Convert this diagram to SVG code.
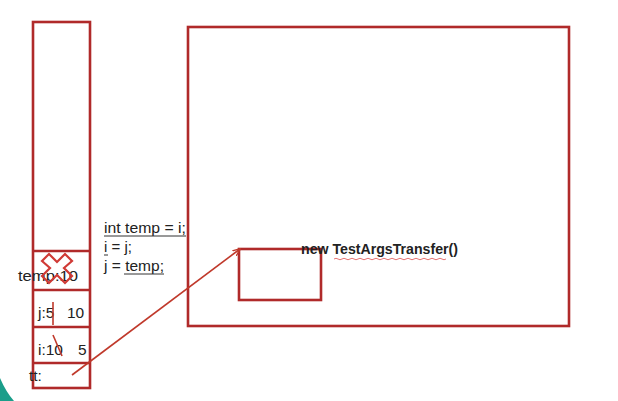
<svg xmlns="http://www.w3.org/2000/svg" width="618" height="401" viewBox="0 0 618 401">
<defs>
<style>
.box{fill:none;stroke:#b02a2a;stroke-width:2.6}
.ln{stroke:#c0392b;stroke-width:1.6;fill:none}
.t{font-family:"Liberation Sans","Open Sans",sans-serif;font-size:15.5px;fill:#222}
.c{font-size:15px}
.b{font-weight:bold}
.u{stroke:#333;stroke-width:1}
</style>
<marker id="ah" viewBox="0 0 10 10" refX="9" refY="5" markerWidth="8" markerHeight="8" orient="auto" markerUnits="userSpaceOnUse">
<path d="M0,1 L10,5 L0,9" fill="none" stroke="#c0392b" stroke-width="1.6"/>
</marker>
</defs>
<rect width="618" height="401" fill="#fff"/>
<path d="M0,378 Q6,392 14,401 L0,401 Z" fill="#1a9e8a"/>
<g id="stack">
<rect class="box" x="33" y="22" width="57" height="366"/>
<line class="box" x1="33" y1="251" x2="90" y2="251"/>
<line class="box" x1="33" y1="290" x2="90" y2="290"/>
<line class="box" x1="33" y1="327" x2="90" y2="327"/>
<line class="box" x1="33" y1="363" x2="90" y2="363"/>
</g>
<g id="temp">
<text class="t" x="18" y="281" textLength="60" lengthAdjust="spacingAndGlyphs">temp:10</text>
<path d="M42,261 L49,254 L57,262 L65,254 L72,261 L64,268 L72,276 L65,283 L57,275 L49,283 L42,276 L50,268 Z" fill="none" stroke="#d03a35" stroke-width="2.2"/>
</g>
<g id="j">
<text class="t" x="38" y="318">j:5</text>
<text class="t" x="67" y="318">10</text>
<line class="ln" x1="53" y1="302" x2="53" y2="325"/>
</g>
<g id="i">
<text class="t" x="38" y="355">i:10</text>
<text class="t" x="78" y="355">5</text>
<line class="ln" x1="53" y1="335" x2="62" y2="356"/>
</g>
<g id="tt">
<text class="t" x="29" y="381">tt:</text>
</g>
<g id="code">
<text class="t c" x="104" y="233" textLength="82" lengthAdjust="spacingAndGlyphs">int temp = i;</text>
<line class="u" x1="104" y1="236" x2="186" y2="236"/>
<text class="t c" x="104" y="252">i = j;</text>
<line class="u" x1="104" y1="255" x2="108" y2="255"/>
<text class="t c" x="104" y="271" textLength="60" lengthAdjust="spacingAndGlyphs">j = temp;</text>
<line class="u" x1="124" y1="274" x2="164" y2="274"/>
</g>
<g id="heap">
<rect class="box" x="188" y="27" width="381" height="299"/>
</g>
<g id="obj">
<rect class="box" x="239" y="249" width="82" height="51"/>
<text class="t b" x="301" y="254" textLength="157" lengthAdjust="spacingAndGlyphs">new TestArgsTransfer()</text>
<path d="M334,259 q2,-1.5 4,0 t4,0 t4,0 t4,0 t4,0 t4,0 t4,0 t4,0 t4,0 t4,0 t4,0 t4,0 t4,0 t4,0 t4,0 t4,0 t4,0 t4,0 t4,0 t4,0 t4,0 t4,0 t4,0 t4,0 t4,0 t4,0 t4,0 t4,0" fill="none" stroke="#e05050" stroke-width="0.8"/>
</g>
<g id="connectors">
<line class="ln" x1="72" y1="375" x2="240" y2="249" marker-end="url(#ah)"/>
</g>
</svg>
